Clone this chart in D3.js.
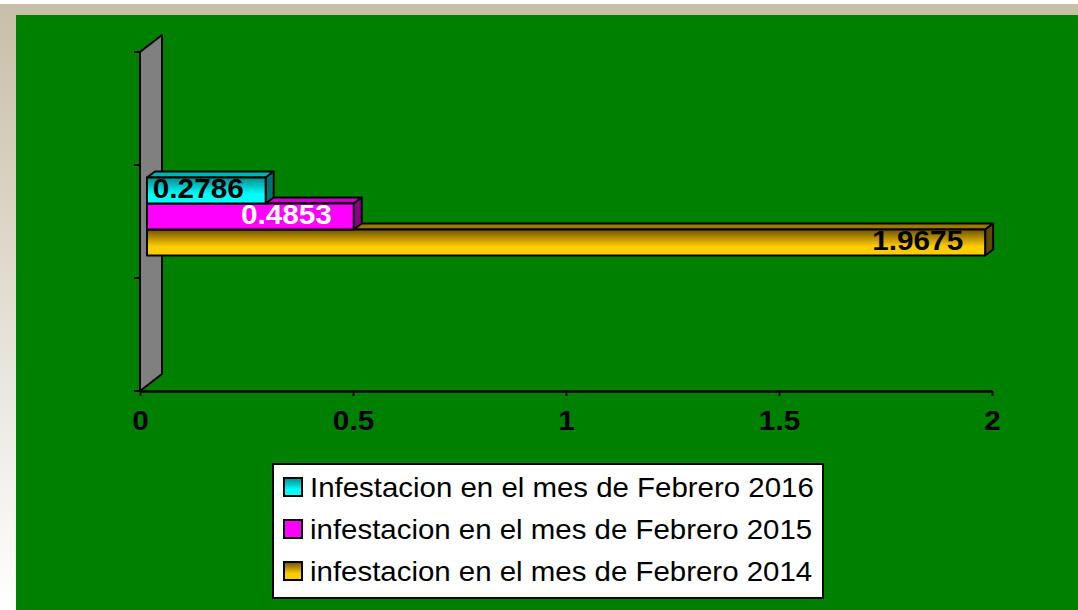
<!DOCTYPE html>
<html>
<head>
<meta charset="utf-8">
<script src="https://cdn.jsdelivr.net/npm/d3@7/dist/d3.min.js"></script>
<style>
  html, body { margin: 0; padding: 0; background: #fff; }
  svg { display: block; font-family: Arial, "Liberation Sans", sans-serif; }
</style>
</head>
<body>
<svg class="bar-chart" width="1078" height="610"></svg>
<script>
// chart data (only the middle category carries values, outer ones are empty)
const categories = ['', 'Febrero', ' '];
const seriesNames = [
  'Infestacion en el mes de Febrero 2016',
  'infestacion en el mes de Febrero 2015',
  'infestacion en el mes de Febrero 2014'
];
const values2016 = [null, 0.2786, null];
const values2015 = [null, 0.4853, null];
const values2014 = [null, 1.9675, null];
const xTicks = [0, 0.5, 1, 1.5, 2];

const series = [
  { name: seriesNames[0], values: values2016, key: 'c', front: ['#008c8c', '#00ffff'], top: '#00b3b3', side: '#007373', label: '#000' },
  { name: seriesNames[1], values: values2015, key: 'm', front: ['#ff00ff', '#ff00ff'], top: '#cc00cc', side: '#8c008c', label: '#fff' },
  { name: seriesNames[2], values: values2014, key: 'g', front: ['#6e5200', '#ffcc00'], top: '#9c7800', side: '#5e4a00', label: '#000' }
];

const svg = d3.select('svg.bar-chart');
const W = 1078, H = 610;
const stretch = 'scale(1.1,1)';  // source text looks slightly widened

// gradients
const defs = svg.append('defs');
const frame = defs.append('linearGradient').attr('id', 'frame')
  .attr('x1', 0).attr('y1', 0).attr('x2', 0).attr('y2', 1);
frame.append('stop').attr('offset', '0%').attr('stop-color', '#c8bfa8');
frame.append('stop').attr('offset', '100%').attr('stop-color', '#ffffff');
series.forEach((s) => {
  const g = defs.append('linearGradient').attr('id', 'grad-' + s.key)
    .attr('x1', 0).attr('y1', 0).attr('x2', 0).attr('y2', 1);
  g.append('stop').attr('offset', '0%').attr('stop-color', s.front[0]);
  g.append('stop').attr('offset', '65%').attr('stop-color', s.front[1]);
  g.append('stop').attr('offset', '100%').attr('stop-color', s.front[1]);
});

// background frame + green plot area
svg.append('rect').attr('width', W).attr('height', H).attr('fill', '#fff');
svg.append('rect').attr('x', 0).attr('y', 4).attr('width', W).attr('height', 11).attr('fill', '#c8bfa8');
svg.append('rect').attr('x', 0).attr('y', 4).attr('width', 16).attr('height', H - 4).attr('fill', 'url(#frame)');
svg.append('rect').attr('x', 16).attr('y', 15).attr('width', W - 16).attr('height', H - 15).attr('fill', '#008000');

// scales
const x = d3.scaleLinear().domain([0, 2]).range([140, 992]);
const y = d3.scaleBand().domain(categories).range([391, 52]);
const bw = y.bandwidth();

const wall = { dx: 22, dy: -17 };   // depth of the side wall
const shift = { dx: 7, dy: -5 };    // bars sit a bit inside the depth
const depth = { dx: 8, dy: -6 };    // bar thickness
const barH = 26;

// side wall
const [y0, y1] = y.range();
svg.append('polygon')
  .attr('points', [[x(0), y1], [x(0) + wall.dx, y1 + wall.dy], [x(0) + wall.dx, y0 + wall.dy], [x(0), y0]].join(' '))
  .attr('fill', '#808080').attr('stroke', '#000').attr('stroke-width', 2).attr('stroke-linejoin', 'round');

// category tick marks on the left (band boundaries)
const bounds = categories.map((c) => y(c)).concat([y0]);
svg.append('g').selectAll('line').data(bounds).join('line')
  .attr('x1', x(0) - 6).attr('x2', x(0)).attr('y1', (d) => d).attr('y2', (d) => d)
  .attr('stroke', '#000').attr('stroke-width', 2);

// value axis
const xAxis = svg.append('g')
  .attr('transform', 'translate(0,' + y0 + ')')
  .call(d3.axisBottom(x).tickValues(xTicks).tickFormat(d3.format('')).tickSize(5).tickSizeOuter(0).tickPadding(15));
xAxis.select('.domain').attr('stroke', '#000').attr('stroke-width', 2.5);
xAxis.selectAll('.tick line').attr('stroke', '#000').attr('stroke-width', 2);
xAxis.selectAll('.tick text')
  .attr('transform', stretch)
  .attr('fill', '#000').attr('font-size', 27).attr('font-weight', 'bold')
  .attr('font-family', 'Arial, "Liberation Sans", sans-serif');

// bars, drawn from bottom series up so upper bars overlap lower top faces
const plot = svg.append('g');
const clusterH = barH * series.length;
categories.forEach((c, ci) => {
  const inner = d3.scaleBand().domain(seriesNames)
    .range([y(c) + (bw - clusterH) / 2 + shift.dy, y(c) + (bw + clusterH) / 2 + shift.dy]);
  series.slice().reverse().forEach((s) => {
    const v = s.values[ci];
    if (v == null) { return; }
    const xa = x(0) + shift.dx, xb = x(v) + shift.dx;
    const ya = inner(s.name), yb = ya + inner.bandwidth();
    const g = plot.append('g').attr('stroke', '#000').attr('stroke-width', 2).attr('stroke-linejoin', 'round');
    g.append('polygon')
      .attr('points', [[xa, ya], [xa + depth.dx, ya + depth.dy], [xb + depth.dx, ya + depth.dy], [xb, ya]].join(' '))
      .attr('fill', s.top);
    g.append('polygon')
      .attr('points', [[xb, ya], [xb + depth.dx, ya + depth.dy], [xb + depth.dx, yb + depth.dy], [xb, yb]].join(' '))
      .attr('fill', s.side);
    g.append('rect')
      .attr('x', xa).attr('y', ya).attr('width', xb - xa).attr('height', yb - ya)
      .attr('fill', 'url(#grad-' + s.key + ')');
    plot.append('text')
      .attr('transform', 'translate(' + (xb - 22) + ',' + ((ya + yb) / 2 - 2) + ') ' + stretch)
      .attr('dy', '0.35em')
      .attr('text-anchor', 'end')
      .attr('font-size', 27).attr('font-weight', 'bold')
      .attr('fill', s.label)
      .text(d3.format('')(v));
  });
});

// legend
const legend = svg.append('g').attr('transform', 'translate(273,464)');
legend.append('rect').attr('width', 550).attr('height', 134)
  .attr('fill', '#fff').attr('stroke', '#000').attr('stroke-width', 2);
const item = legend.selectAll('g.item').data(series).join('g')
  .attr('class', 'item')
  .attr('transform', (d, i) => 'translate(11,' + (23 + i * 42) + ')');
item.append('rect')
  .attr('x', 0).attr('y', -9).attr('width', 18).attr('height', 18)
  .attr('fill', (d) => 'url(#grad-' + d.key + ')')
  .attr('stroke', '#000').attr('stroke-width', 2);
item.append('text')
  .attr('transform', 'translate(26,0) scale(1.09,1)')
  .attr('dy', '0.36em')
  .attr('font-size', 27).attr('fill', '#000')
  .text((d) => d.name);
</script>
</body>
</html>
